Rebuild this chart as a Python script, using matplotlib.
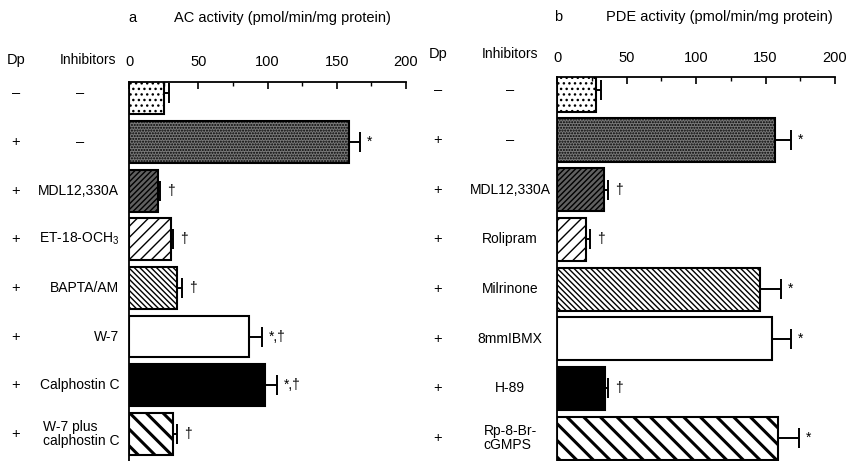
import matplotlib
matplotlib.use("agg")
from matplotlib import pyplot as plt
from matplotlib import transforms
from matplotlib.ticker import MultipleLocator

plt.rcParams['font.family'] = ['Liberation Sans', 'DejaVu Sans']
plt.rcParams['mathtext.default'] = 'regular'
plt.rcParams['font.size'] = 10

W, H = 846, 461

# panel a: adenylate cyclase activity
dp_a = ['\u2013', '+', '+', '+', '+', '+', '+', '+']
inhib_a = ['\u2013', '\u2013', 'MDL12,330A', 'ET-18-OCH$_3$', 'BAPTA/AM', 'W-7',
           'Calphostin C', 'W-7 plus\ncalphostin C']
ac_vals = [25, 159, 21, 30, 35, 87, 98, 32]
ac_err = [4, 8, 1.5, 2, 3.5, 9, 8.5, 3]
ac_marks = ['', '*', '\u2020', '\u2020', '\u2020', '*,\u2020', '*,\u2020', '\u2020']

# panel b: phosphodiesterase activity
dp_b = ['\u2013', '+', '+', '+', '+', '+', '+', '+']
inhib_b = ['\u2013', '\u2013', 'MDL12,330A', 'Rolipram', 'Milrinone', '8mmIBMX',
           'H-89', 'Rp-8-Br-\ncGMPS']
pde_vals = [28, 157, 34, 21, 146, 155, 34.5, 159]
pde_err = [4, 11.5, 3, 3, 15, 13, 2.5, 15]
pde_marks = ['', '*', '\u2020', '\u2020', '*', '*', '\u2020', '*']

# bar styles (face colour, hatch, hatch line width)
faces = ['white', '#7a7a7a', '#606060', 'white', 'white', 'white', 'black', 'white']
hatches = ['...', '......', '//////', '///', '\\\\\\\\\\\\', None, None, '\\\\']
hatch_lw = [1.0, 1.0, 1.0, 1.0, 1.0, 1.0, 1.0, 2.2]

fig = plt.figure(figsize=(W / 100, H / 100), dpi=100)


def panel(left, right, top, ylim, height, vals, errs, marks, dps, inhibs,
          letter, title, letter_x, title_x, title_y, dp_x, inh_x, inh_ha, head_y):
    ax = fig.add_axes([left / W, 0, (right - left) / W, 1 - top / H])
    rows = list(range(len(vals)))
    bars = ax.barh(rows, vals, height=height, color=faces, edgecolor='black',
                   linewidth=1.5)
    for b, h, hl in zip(bars, hatches, hatch_lw):
        if h:
            b.set_hatch(h)
            try:
                b.set_hatch_linewidth(hl)
            except AttributeError:
                pass
    ax.errorbar(vals, rows, xerr=[[0] * len(vals), errs], fmt='none',
                ecolor='black', elinewidth=1.4, capsize=7, capthick=1.4)
    for v, e, m, r in zip(vals, errs, marks, rows):
        if m:
            ax.annotate(m, xy=(v + e, r), xytext=(5, 0), textcoords='offset points',
                        va='center', ha='left', fontsize=10)
    ax.set_xlim(0, 200)
    ax.set_ylim(*ylim)
    ax.xaxis.tick_top()
    ax.xaxis.set_major_locator(MultipleLocator(50))
    ax.xaxis.set_minor_locator(MultipleLocator(25))
    ax.tick_params(axis='x', which='major', direction='in', length=5, width=1.2,
                   pad=9, labelsize=10.5)
    ax.tick_params(axis='x', which='minor', direction='in', length=3, width=1)
    ax.set_yticks([])
    for s in ['right', 'bottom']:
        ax.spines[s].set_visible(False)
    ax.spines['top'].set_linewidth(1.3)
    ax.spines['left'].set_linewidth(1.3)

    tr = transforms.blended_transform_factory(fig.transFigure, ax.transData)
    for r, d, lab in zip(rows, dps, inhibs):
        ax.text(dp_x / W, r, d, transform=tr, ha='center', va='center',
                fontsize=10.5, clip_on=False)
        if lab == '\u2013':
            ax.text(80 / W if inh_ha == 'right' else inh_x / W, r, lab,
                    transform=tr, ha='center', va='center', fontsize=10.5)
        else:
            ax.text(inh_x / W, r, lab, transform=tr, ha=inh_ha, va='center',
                    multialignment='left', fontsize=10, linespacing=1.0)
    fig.text(dp_x / W, 1 - head_y / H, 'Dp', ha='center', va='center', fontsize=10.5)
    fig.text((inh_x - 31) / W if inh_ha == 'right' else inh_x / W, 1 - head_y / H,
             'Inhibitors', ha='center', va='center', fontsize=10)
    fig.text(letter_x / W, 1 - title_y / H, letter, ha='center', va='center',
             fontsize=10.5)
    fig.text(title_x / W, 1 - title_y / H, title, ha='left', va='center',
             fontsize=10.5)
    return ax


panel(129, 406, 82, (7.56, -0.235), 0.86, ac_vals, ac_err, ac_marks, dp_a, inhib_a,
      'a', 'AC activity (pmol/min/mg protein)', 132, 174, 18, 16, 119, 'right', 60)
panel(557, 835, 77, (7.46, -0.27), 0.87, pde_vals, pde_err, pde_marks, dp_b, inhib_b,
      'b', 'PDE activity (pmol/min/mg protein)', 558, 606, 17, 438, 510, 'center', 54)

plt.savefig("out.png", dpi=100)
